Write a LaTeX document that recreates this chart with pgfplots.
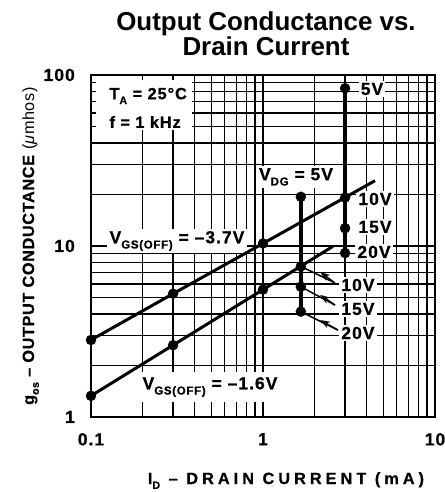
\documentclass[border=0pt]{standalone}
\usepackage{fontspec}
\setmainfont{Liberation Sans}
\newfontfamily\xlf[LetterSpace=25,BoldFeatures={FakeBold=0.8}]{Liberation Sans}
\newfontfamily\infont[LetterSpace=6,BoldFeatures={FakeBold=0.8}]{Liberation Sans}
\newfontfamily\ylf[LetterSpace=4,BoldFeatures={FakeBold=0.8}]{Liberation Sans}
\usepackage{graphicx}
\usepackage{pgfplots}
\pgfplotsset{compat=1.18}
\usetikzlibrary{arrows.meta}
\pgfplotsset{
  /pgfplots/layers/mylayers/.define layer set={
    axis background,axis grid,main,axis ticks,axis lines,axis tick labels,
    axis descriptions,axis foreground
  }{/pgfplots/layers/standard},
}
\newcommand\sub[1]{\raisebox{-0.3em}{\scalebox{0.66}{#1}}}
\newcommand\lf{\infont\fontsize{17.5}{19}\selectfont\bfseries}
\begin{document}
\begin{tikzpicture}
\begin{axis}[
  at={(91bp,75bp)}, anchor=south west,
  width=344bp, height=342bp, scale only axis,
  xmode=log, ymode=log,
  xmin=0.1, xmax=10, ymin=1, ymax=100,
  set layers=mylayers,
  clip=false,
  axis line style={line width=2.5bp},
  grid=both,
  major grid style={line width=2bp, black},
  minor grid style={line width=1.3bp, black},
  xtick={0.1,1,10}, xticklabels={0.1,1,10},
  ytick={1,10,100}, yticklabels={1,10,100},
  minor xtick={0.2,0.3,0.4,0.5,0.6,0.7,0.8,0.9,2,3,4,5,6,7,8,9},
  minor ytick={2,3,4,5,6,7,8,9,20,30,40,50,60,70,80,90},
  major tick length=0pt, minor tick length=5bp,
  tick style={black, line width=1.2bp},
  tick label style={font=\infont\fontsize{17.5}{19}\selectfont\bfseries},
  xticklabel style={anchor=north, inner sep=0pt, yshift=-16bp},
  yticklabel style={anchor=east, inner sep=0pt, xshift=-16bp},
]
% white label areas
\fill[white] (rel axis cs:0.004,0.996) rectangle (rel axis cs:0.294,0.839);
\node[anchor=west, font=\infont\fontsize{16.3}{18}\selectfont\bfseries] at (rel axis cs:0.0436,0.9386) {T\sub{A} = 25°C};
\node[anchor=west, font=\infont\fontsize{16.3}{18}\selectfont\bfseries] at (rel axis cs:0.0436,0.8626) {f = 1 kHz};
\node[fill=white, inner sep=2.5bp, font=\lf] at (rel axis cs:0.596,0.702) {V\sub{DG} = 5V};
\node[fill=white, inner sep=2.5bp, font=\lf] at (rel axis cs:0.25,0.5146) {V\sub{GS(OFF)} = –3.7V};
\node[fill=white, inner xsep=4bp, inner ysep=5bp, font=\lf] at (rel axis cs:0.346,0.0877) {V\sub{GS(OFF)} = –1.6V};
\node[fill=white, inner sep=2bp, font=\lf] at (rel axis cs:0.817,0.959) {5V};
\node[fill=white, inner sep=2bp, font=\lf] at (rel axis cs:0.8256,0.6374) {10V};
\node[fill=white, inner sep=2bp, font=\lf] at (rel axis cs:0.8256,0.5556) {15V};
\node[fill=white, inner sep=2bp, font=\lf] at (rel axis cs:0.8227,0.4825) {20V};
\node[fill=white, inner sep=2bp, font=\lf] at (rel axis cs:0.776,0.386) {10V};
\node[fill=white, inner sep=2bp, font=\lf] at (rel axis cs:0.776,0.3158) {15V};
\node[fill=white, inner sep=2bp, font=\lf] at (rel axis cs:0.776,0.2456) {20V};
% data
\addplot[black, no marks, line width=3bp] coordinates {(0.1,2.82) (0.3,5.26) (1,10.35) (4.48,24.1)};
\addplot[black, no marks, line width=3bp] coordinates {(0.1,1.33) (0.3,2.63) (1,5.56) (2.55,9.95)};
\addplot[black, no marks, line width=3.6bp] coordinates {(1.66,19.4) (1.66,4.13)};
\addplot[black, no marks, line width=3.6bp] coordinates {(3,83.6) (3,9.1)};
\addplot[black, only marks, mark=*, mark size=5bp, mark options={fill=black}] coordinates {
  (0.1,2.82) (0.3,5.26) (1,10.35) (3,19.2) (3,83.6) (3,12.7) (3,9.1)
  (0.1,1.33) (0.3,2.63) (1,5.56) (1.66,7.6) (1.66,19.4) (1.66,5.78) (1.66,4.13)};
% arrows
\draw[line width=1.5bp] (rel axis cs:0.709,0.392) -- (axis cs:1.66,7.6);
\draw[line width=1.5bp] (rel axis cs:0.709,0.3275) -- (axis cs:1.66,5.78);
\draw[line width=1.5bp] (rel axis cs:0.718,0.254) -- (axis cs:1.66,4.13);
\draw[line width=1.5bp, -{Stealth[length=10bp,width=7bp]}] (rel axis cs:0.709,0.392) -- (rel axis cs:0.666,0.424);
\draw[line width=1.5bp, -{Stealth[length=10bp,width=7bp]}] (rel axis cs:0.709,0.3275) -- (rel axis cs:0.666,0.357);
\draw[line width=1.5bp, -{Stealth[length=10bp,width=7bp]}] (rel axis cs:0.718,0.254) -- (rel axis cs:0.666,0.2836);
\end{axis}
\node[anchor=base, align=center, font=\fontsize{26}{23}\selectfont\bfseries] at (266bp,436bp) {Output Conductance vs.\\Drain Current};
\node[anchor=base, font=\xlf\fontsize{16.3}{18}\selectfont\bfseries] at (286bp,8bp) {I\sub{D} – DRAIN CURRENT (mA)};
\node[rotate=90, anchor=base, font=\ylf\fontsize{16.3}{18}\selectfont\bfseries] at (34bp,246bp) {g\sub{os} – OUTPUT CONDUCTANCE {\mdseries(\textit{μ}mhos)}};
\pgfresetboundingbox
\path[use as bounding box] (0,0) rectangle (445bp,492bp);
\end{tikzpicture}
\end{document}
